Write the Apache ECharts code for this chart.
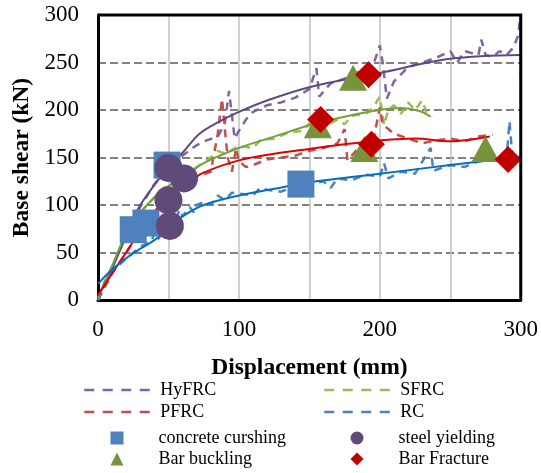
<!DOCTYPE html>
<html>
<head>
<meta charset="utf-8">
<script src="https://cdn.jsdelivr.net/npm/echarts@6/dist/echarts.min.js"></script>
<style>
  html, body { margin: 0; padding: 0; background: #fff; }
  #chart { width: 541px; height: 473px; }
</style>
</head>
<body>
<div id="chart"></div>
<script>
// Axis ticks
const xTicks = [0, 50, 100, 150, 200, 250, 300];
const yTicks = [0, 50, 100, 150, 200, 250, 300];

// Measured response envelopes: [displacement (mm), base shear (kN)]
const hyfrcTest = [[0,0],[5,20],[10,35],[20,68],[30,98],[40,122],[50,140],[60,152],[70,163],[77,168],[85,172],[90,186],[93,220],[95,195],[97,170],[100,178],[105,190],[110,198],[120,205],[130,208],[140,213],[150,222],[155,244],[157,214],[165,228],[175,233],[185,240],[195,246],[200,268],[202,250],[205,212],[210,230],[220,245],[230,250],[240,255],[250,262],[255,250],[260,262],[270,258],[272,274],[275,258],[280,256],[285,262],[290,258],[295,266],[298,278],[300,300],[300,226]];
const sfrcTest = [[0,0],[10,35],[20,70],[30,92],[40,108],[50,122],[60,130],[70,140],[80,150],[85,157],[90,154],[100,162],[110,160],[115,168],[125,170],[135,176],[145,178],[150,186],[160,182],[170,190],[175,185],[180,194],[190,196],[195,202],[200,214],[203,184],[206,200],[210,205],[215,196],[220,208],[225,200],[230,210],[233,198],[237,193]];
const pfrcTest = [[0,0],[10,28],[20,50],[30,72],[40,93],[50,108],[60,120],[70,130],[80,135],[85,175],[88,212],[90,180],[92,150],[95,135],[98,160],[100,146],[105,140],[110,142],[120,148],[130,150],[140,152],[150,157],[160,160],[170,165],[175,180],[177,147],[185,160],[195,165],[200,203],[202,185],[210,175],[220,170],[230,165],[240,168],[250,170],[260,167],[270,172],[280,174]];
const rcTest = [[0,0],[10,30],[20,44],[30,56],[38,62],[40,70],[42,63],[50,78],[55,85],[58,95],[60,88],[65,98],[68,92],[70,100],[75,103],[80,100],[85,110],[90,105],[95,113],[100,112],[110,110],[115,118],[120,116],[130,114],[140,120],[150,122],[160,125],[165,118],[170,128],[180,126],[190,132],[200,130],[203,144],[206,128],[215,135],[225,133],[236,160],[238,136],[250,142],[260,140],[270,146],[280,147],[290,150],[292,188],[294,152],[300,153]];

// Fitted trend curves
const hyfrcFit = [[0,3],[5,18],[10,33],[15,50],[20,68],[25,86],[30,100],[40,121],[50,140],[60,155],[72,175],[85,187],[100,198],[120,210],[150,224],[200,239],[250,254],[300,258]];
const sfrcFit = [[0,3],[10,36],[20,70],[30,92],[40,108],[50,120],[60,128],[75,144],[100,160],[125,172],[150,184],[175,193],[200,200],[215,202],[228,199],[236,193]];
const pfrcFit = [[0,5],[10,28],[20,50],[30,73],[40,93],[50,108],[60,120],[75,134],[100,147],[125,154],[150,159],[175,164],[200,168],[225,170],[250,167],[265,169],[278,172]];
const rcFit = [[0,17],[10,32],[20,44],[30,54],[40,63],[50,76],[60,88],[75,100],[100,110],[125,117],[150,124],[200,133],[250,142],[300,151]];

// Damage events
const crushing = [[25,74],[34,81],[49,142],[144,122]];
const yielding = [[50,105],[51,78],[61,128],[50,139]];
const buckling = [[181,234],[156,184],[189,159],[275,159]];
const fracture = [[192,237],[158,190],[194,164],[291,148]];

const SERIF = "'Liberation Serif', 'Times New Roman', serif";

const dashed = (name, data, color) => ({
  name, type: 'line', data, symbol: 'none', showSymbol: false,
  lineStyle: { color, width: 2.5, type: [8, 6] }, itemStyle: { color },
  z: 2, animation: false
});
const solid = (name, data, color) => ({
  name, type: 'line', data, symbol: 'none', showSymbol: false, smooth: 0.35,
  lineStyle: { color, width: 2 }, itemStyle: { color },
  z: 3, animation: false
});
const marks = (name, data, symbol, size, color) => ({
  name, type: 'scatter', data, symbol, symbolSize: size,
  itemStyle: { color, opacity: 1 }, z: 4, animation: false
});

// Legend entries: dashed line samples and event markers
const lineKey = (name, left, cy) => ({
  data: [name], left, top: cy - 9, orient: 'horizontal', padding: 0,
  itemWidth: 66, itemHeight: 12, selectedMode: false,
  itemStyle: { opacity: 0 },
  textStyle: { fontFamily: SERIF, fontSize: 18, color: '#000', lineHeight: 20, padding: [0, 0, 0, 5] },
  lineStyle: { width: 2.5, type: [10, 8.5] }
});
const markKey = (name, icon, cx, cy) => ({
  data: [{ name, icon }], left: cx - 6.5, top: cy - 9, orient: 'horizontal', padding: 0,
  itemWidth: 13, itemHeight: 13, selectedMode: false,
  textStyle: { fontFamily: SERIF, fontSize: 18, color: '#000', lineHeight: 20, padding: [0, 0, 0, 30] }
});

// Inner grid lines only; the outer edges are drawn by the plot frame
const innerColors = (ticks, color) =>
  ticks.map((t, i) => (i === 0 || i === ticks.length - 1 ? 'rgba(0,0,0,0)' : color));

const xMin = xTicks[0], xMax = xTicks[xTicks.length - 1];
const yMin = yTicks[0], yMax = yTicks[yTicks.length - 1];

const chart = echarts.init(document.getElementById('chart'), null, { renderer: 'canvas' });
chart.setOption({
  animation: false,
  backgroundColor: '#fff',
  grid: { left: 98, right: 17, top: 15, bottom: 173 },
  xAxis: {
    type: 'value', min: xMin, max: xMax, interval: 50,
    name: 'Displacement (mm)', nameLocation: 'middle', nameGap: 56,
    nameTextStyle: { fontFamily: SERIF, fontSize: 23.5, fontWeight: 'bold', color: '#000' },
    axisLine: { show: true, onZero: false, lineStyle: { color: '#000', width: 3 } },
    axisTick: { show: false },
    axisLabel: { fontFamily: SERIF, fontSize: 23, color: '#000', margin: 18,
                 formatter: v => (v % 100 === 0 ? String(v) : '') },
    splitLine: { show: true, lineStyle: { color: innerColors(xTicks, '#c0c0c0'), width: 1.5 } }
  },
  yAxis: {
    type: 'value', min: yMin, max: yMax, interval: 50,
    name: 'Base shear (kN)', nameLocation: 'middle', nameGap: 55,
    nameTextStyle: { fontFamily: SERIF, fontSize: 23.5, fontWeight: 'bold', color: '#000' },
    axisLine: { show: true, onZero: false, lineStyle: { color: '#000', width: 3 } },
    axisTick: { show: false },
    axisLabel: { fontFamily: SERIF, fontSize: 23, color: '#000', margin: 19 },
    splitLine: { show: true, lineStyle: { color: innerColors(yTicks, '#808080'), width: 2, type: [8, 4] } }
  },
  legend: [
    lineKey('HyFRC', 83, 389),
    lineKey('SFRC', 323, 389),
    lineKey('PFRC', 83, 411),
    lineKey('RC', 323, 411),
    markKey('concrete curshing', 'rect', 117, 437),
    markKey('steel yielding', 'circle', 357, 437),
    markKey('Bar buckling', 'triangle', 117, 458),
    markKey('Bar Fracture', 'diamond', 357, 458)
  ],
  series: [
    dashed('HyFRC', hyfrcTest, '#8064A2'),
    dashed('SFRC', sfrcTest, '#9BBB59'),
    dashed('PFRC', pfrcTest, '#C0504D'),
    dashed('RC', rcTest, '#4F81BD'),
    solid('HyFRC fit', hyfrcFit, '#5F4A7E'),
    solid('SFRC fit', sfrcFit, '#77A03A'),
    solid('PFRC fit', pfrcFit, '#E00000'),
    solid('RC fit', rcFit, '#0070C0'),
    marks('concrete curshing', crushing, 'rect', 27, '#4F81BD'),
    marks('steel yielding', yielding, 'circle', 28, '#604A7B'),
    marks('Bar buckling', buckling, 'triangle', [28, 26], '#77933C'),
    marks('Bar Fracture', fracture, 'diamond', 27, '#C00000')
  ]
});

// Top and right edges of the plot frame, placed through the chart's own scales
const lo = chart.convertToPixel({ gridIndex: 0 }, [xMin, yMin]);
const hi = chart.convertToPixel({ gridIndex: 0 }, [xMax, yMax]);
chart.setOption({
  graphic: [{
    type: 'polyline', silent: true, z: 100,
    shape: { points: [[lo[0], hi[1]], [hi[0], hi[1]], [hi[0], lo[1]]] },
    style: { fill: null, stroke: '#000000', lineWidth: 3, lineJoin: 'miter', opacity: 1 }
  }]
});
</script>
</body>
</html>
